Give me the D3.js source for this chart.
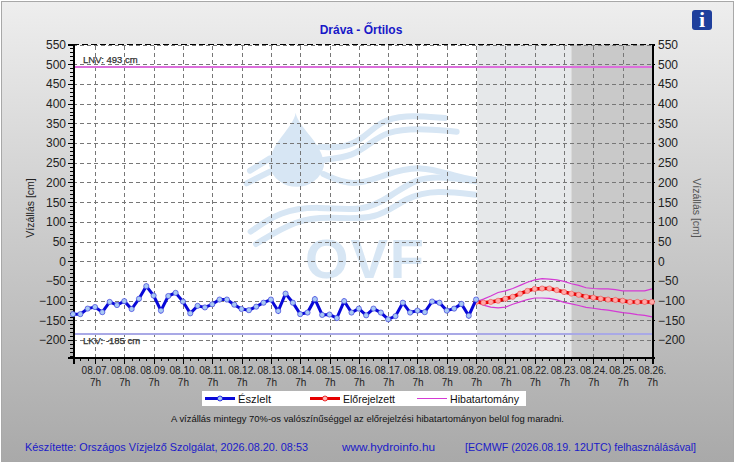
<!DOCTYPE html>
<html>
  <head>
    <meta charset="utf-8">
    <script src="https://cdn.jsdelivr.net/npm/d3@7"></script>
    <style type="text/css">
      html, body { margin: 0; padding: 0; background: #fff; overflow: hidden; }
      svg { display: block; font-family: "Liberation Sans", Arial, sans-serif; }
      .grid line { stroke: #777; stroke-width: 1; stroke-dasharray: 4 3; shape-rendering: crispEdges; }
      .grid path { display: none; }
      .axis path, .axis line { stroke: #000; shape-rendering: crispEdges; }
      .axis path { stroke-width: 2; fill: none; }
      .axis text { fill: #222; }
    </style>
  </head>
  <body>
    <div id="chart"></div>
    <script type="text/javascript">
    // values, 6 hour steps
    var observed = [-134,-134,-120,-116,-129,-103,-111,-101,-121,-95,-63,-87,-125,-88,-80,-102,-132,-113,-117,-109,-97,-97,-110,-121,-124,
      -115,-105,-97,-126,-82,-105,-134,-130,-96,-136,-135,-144,-101,-130,-120,-137,-120,-130,-147,-139,-105,-130,-125,-129,-102,-105,-125,-120,-108,-138,-97];
    var forecast = [-103,-105,-103,-100,-95,-90,-82,-75,-70,-69,-69,-73,-78,-82,-85,-90,-92,-95,-97,-98,-100,-103,-103,-103,-103];
    var upperBand = [-103,-96,-88,-79,-75,-69,-61,-53,-47,-44,-45,-47,-51,-57,-61,-67,-69,-70,-70,-72,-75,-75,-75,-75,-70];
    var lowerBand = [-103,-111,-116,-118,-116,-109,-103,-97,-93,-93,-94,-98,-104,-108,-112,-117,-119,-122,-124,-127,-130,-132,-135,-137,-141];
    var dayLabels = ["08.07.","08.08.","08.09.","08.10.","08.11.","08.12.","08.13.","08.14.","08.15.","08.16.","08.17.","08.18.","08.19.","08.20.","08.21.","08.22.","08.23.","08.24.","08.25.","08.26."];
    var yTicks = [550,500,450,400,350,300,250,200,150,100,50,0,-50,-100,-150,-200];
    var lnv = 493, lkv = -185;

    var canvas_width = 735, canvas_height = 463;
    var left = 73, right = 652, top_ = 44.5, bottom = 357.5;
    var HOUR = 3600000;
    var t0 = Date.UTC(2026, 7, 6, 13);
    var tNow = Date.UTC(2026, 7, 20, 7);
    var tShade = Date.UTC(2026, 7, 23, 13);
    var tEnd = Date.UTC(2026, 7, 26, 7);

    var xScale = d3.scaleUtc().domain([t0, tEnd]).range([left, right]);
    var yScale = d3.scaleLinear().domain([-244, 550]).range([bottom, top_]);

    var days = dayLabels.map(function (d, i) { return Date.UTC(2026, 7, 7 + i, 7); });
    var sixHours = d3.range(t0, tEnd + 1, 6 * HOUR);
    var tens = d3.range(-240, 551, 10);

    var svg = d3.select("#chart").append("svg")
        .attr("width", canvas_width)
        .attr("height", canvas_height);

    var defs = svg.append("defs");
    var grad = defs.append("linearGradient").attr("id", "panel")
        .attr("x1", 0).attr("y1", 0).attr("x2", 0).attr("y2", 1);
    grad.append("stop").attr("offset", 0).attr("stop-color", "#eeeeee");
    grad.append("stop").attr("offset", 1).attr("stop-color", "#a9a9a9");

    // background panel
    svg.append("rect").attr("x", 1.5).attr("y", 1.5)
        .attr("width", canvas_width - 3).attr("height", canvas_height - 3)
        .attr("fill", "url(#panel)").attr("stroke", "#a8a8a8").attr("stroke-width", 1);

    svg.append("rect").attr("x", left).attr("y", top_)
        .attr("width", right - left).attr("height", bottom - top_).attr("fill", "#fff");

    // watermark logo
    var logo = svg.append("g").attr("transform", "translate(230,100) scale(0.3333)");
    var logoColor = "#d7e6f4";
    var curve = d3.line().curve(d3.curveBasis);
    var waves = [
      [[60,212],[120,175]],
      [[270,140],[340,145],[400,115],[450,65],[520,44],[645,54]],
      [[50,250],[120,215]],
      [[280,180],[370,168],[420,130],[470,95],[560,84],[680,95]],
      [[280,222],[370,262],[460,225],[570,194],[680,230],[745,242]],
      [[62,395],[150,334],[260,318],[400,336],[480,290],[560,234],[640,230],[745,245]],
      [[78,432],[200,358],[300,350],[440,362],[530,290],[620,270],[745,285]]
    ];
    logo.selectAll("path.wave").data(waves).enter().append("path")
        .attr("class", "wave")
        .attr("d", curve)
        .attr("fill", "none").attr("stroke", logoColor)
        .attr("stroke-width", 18).attr("stroke-linecap", "round");
    logo.append("path")
        .attr("d", "M197,38 C205,85 282,130 282,198 A84,80 0 0 1 118,198 C118,130 190,85 197,38 Z")
        .attr("fill", logoColor);
    svg.append("text").attr("x", 305).attr("y", 278)
        .attr("textLength", 119).attr("lengthAdjust", "spacing")
        .attr("font-size", 56).attr("font-weight", "bold").attr("fill", logoColor)
        .text("OVF");

    // forecast shading
    svg.append("rect").attr("x", xScale(tNow) + 1).attr("y", top_)
        .attr("width", xScale(tShade) - xScale(tNow) - 1).attr("height", bottom - top_).attr("fill", "#e6e8ea");
    svg.append("rect").attr("x", xScale(tShade)).attr("y", top_)
        .attr("width", right - xScale(tShade)).attr("height", bottom - top_).attr("fill", "#c9c9c9");

    // grid
    svg.append("g").attr("class", "grid")
        .attr("transform", "translate(0," + bottom + ")")
        .call(d3.axisBottom(xScale).tickValues(days).tickSize(-(bottom - top_)).tickFormat(""));
    svg.append("g").attr("class", "grid")
        .attr("transform", "translate(" + left + ",0)")
        .call(d3.axisLeft(yScale).tickValues(yTicks).tickSize(-(right - left)).tickFormat(""));

    // limit lines
    svg.append("line").attr("x1", left).attr("x2", right)
        .attr("y1", yScale(lnv)).attr("y2", yScale(lnv))
        .attr("stroke", "#dc6fdc").attr("stroke-width", 2).attr("shape-rendering", "crispEdges");
    svg.append("line").attr("x1", left).attr("x2", right)
        .attr("y1", yScale(lkv)).attr("y2", yScale(lkv))
        .attr("stroke", "#a9a9e6").attr("stroke-width", 2).attr("shape-rendering", "crispEdges");
    svg.append("text").attr("x", 83).attr("y", yScale(lnv) - 4)
        .attr("font-size", 9.5).attr("fill", "#333").attr("stroke", "#333").attr("stroke-width", 0.25)
        .text("LNV: " + lnv + " cm");
    svg.append("text").attr("x", 83).attr("y", yScale(lkv) + 10)
        .attr("font-size", 9.5).attr("fill", "#333").attr("stroke", "#333").attr("stroke-width", 0.25)
        .text("LKV: " + lkv + " cm");

    // axes
    var yMinor = d3.axisLeft(yScale).tickValues(tens).tickSize(3).tickFormat("");
    svg.append("g").attr("class", "axis").attr("transform", "translate(" + left + ",0)").call(yMinor);
    var yLeft = d3.axisLeft(yScale).tickValues(yTicks).tickSize(5).tickPadding(2);
    svg.append("g").attr("class", "axis").attr("transform", "translate(" + left + ",0)").call(yLeft)
        .selectAll("text").attr("font-size", 12);
    var yRight = d3.axisRight(yScale).tickValues(yTicks).tickSize(3).tickPadding(3);
    svg.append("g").attr("class", "axis").attr("transform", "translate(" + right + ",0)").call(yRight)
        .selectAll("text").attr("font-size", 12);

    svg.append("g").attr("class", "axis").attr("transform", "translate(0," + bottom + ")")
        .call(d3.axisBottom(xScale).tickValues(sixHours).tickSize(3).tickFormat(""));
    var xAxis = d3.axisBottom(xScale).tickValues(days).tickSize(6).tickPadding(3)
        .tickFormat(function (d, i) { return dayLabels[i]; });
    var xg = svg.append("g").attr("class", "axis").attr("transform", "translate(0," + bottom + ")").call(xAxis);
    xg.selectAll("text").attr("font-size", 10);
    xg.selectAll(".tick").append("text")
        .attr("y", 25).attr("font-size", 10).attr("fill", "#222").attr("dy", ".32em")
        .text("7h");

    svg.append("line").attr("x1", left).attr("x2", right).attr("y1", top_).attr("y2", top_)
        .attr("stroke", "#000").attr("stroke-dasharray", "6 3").attr("shape-rendering", "crispEdges");

    // band
    function timeAt(start) { return function (d, i) { return xScale(start + i * 6 * HOUR); }; }
    var bandLine = d3.line().x(timeAt(tNow)).y(function (d) { return yScale(d); });
    [upperBand, lowerBand].forEach(function (band) {
      svg.append("path").attr("d", bandLine(band))
          .attr("fill", "none").attr("stroke", "#d43ad4").attr("stroke-width", 1.2);
    });

    // series
    function drawSeries(values, start, lineColor, dotColor, dotEdge, width) {
      var line = d3.line().x(timeAt(start)).y(function (d) { return yScale(d); });
      var g = svg.append("g");
      g.append("path").attr("d", line(values))
          .attr("fill", "none").attr("stroke", lineColor).attr("stroke-width", width);
      g.selectAll("circle").data(values).enter().append("circle")
          .attr("cx", timeAt(start))
          .attr("cy", function (d) { return yScale(d); })
          .attr("r", 2.6)
          .attr("fill", dotColor).attr("stroke", dotEdge).attr("stroke-width", 0.6);
    }
    drawSeries(forecast, tNow, "#e60000", "#ffa8a8", "#f05050", 3.5);
    drawSeries(observed, t0, "#0808d8", "#a8c8f4", "#2a2ad8", 3);

    // title and axis names
    svg.append("text").attr("x", 361).attr("y", 34).attr("text-anchor", "middle")
        .attr("font-size", 12).attr("font-weight", "bold").attr("fill", "#1818c8")
        .text("Dráva - Őrtilos");
    svg.append("text").attr("transform", "translate(34,208) rotate(-90)").attr("text-anchor", "middle")
        .attr("font-size", 10.5).attr("fill", "#222").text("Vízállás [cm]");
    svg.append("text").attr("transform", "translate(693,208) rotate(90)").attr("text-anchor", "middle")
        .attr("font-size", 10.5).attr("fill", "#555").text("Vízállás [cm]");

    // legend
    svg.append("rect").attr("x", 202).attr("y", 391).attr("width", 324).attr("height", 15).attr("fill", "#fff");
    var legendItems = [
      {name: "Észlelt", x1: 205, color: "#0808d8", dot: "#a8c8f4", w: 3, textWidth: 33},
      {name: "Előrejelzett", x1: 310, color: "#e60000", dot: "#ffb4b4", w: 3, textWidth: 52},
      {name: "Hibatartomány", x1: 417, color: "#d43ad4", dot: null, w: 1, textWidth: 69}
    ];
    legendItems.forEach(function (d) {
      svg.append("line").attr("x1", d.x1).attr("x2", d.x1 + 30).attr("y1", 398.5).attr("y2", 398.5)
          .attr("stroke", d.color).attr("stroke-width", d.w);
      if (d.dot) {
        svg.append("circle").attr("cx", d.x1 + 15).attr("cy", 398.5).attr("r", 2.5)
            .attr("fill", d.dot).attr("stroke", d.color).attr("stroke-width", 0.8);
      }
      svg.append("text").attr("x", d.x1 + 33).attr("y", 402.5).attr("font-size", 11)
          .attr("textLength", d.textWidth).attr("lengthAdjust", "spacingAndGlyphs")
          .attr("fill", "#111").text(d.name);
    });

    svg.append("text").attr("x", 171).attr("y", 422)
        .attr("font-size", 9.5).attr("fill", "#111")
        .attr("textLength", 393).attr("lengthAdjust", "spacingAndGlyphs")
        .text("A vízállás mintegy 70%-os valószínűséggel az előrejelzési hibatartományon belül fog maradni.");

    // footer
    var footer = [
      {x: 25, w: 283, text: "Készítette: Országos Vízjelző Szolgálat, 2026.08.20. 08:53"},
      {x: 342, w: 93, text: "www.hydroinfo.hu"},
      {x: 465, w: 231, text: "[ECMWF (2026.08.19. 12UTC) felhasználásával]"}
    ];
    svg.selectAll("text.footer").data(footer).enter().append("text")
        .attr("class", "footer")
        .attr("x", function (d) { return d.x; }).attr("y", 451)
        .attr("font-size", 11).attr("fill", "#1a1ac8")
        .attr("textLength", function (d) { return d.w; }).attr("lengthAdjust", "spacingAndGlyphs")
        .text(function (d) { return d.text; });

    // info button
    svg.append("rect").attr("x", 692).attr("y", 10).attr("width", 20).attr("height", 20).attr("rx", 3)
        .attr("fill", "#1f3f9c");
    svg.append("text").attr("x", 702).attr("y", 27).attr("text-anchor", "middle")
        .attr("font-family", "'Liberation Serif', serif").attr("font-weight", "bold")
        .attr("font-size", 22).attr("fill", "#fff").text("i");
    </script>
  </body>
</html>
